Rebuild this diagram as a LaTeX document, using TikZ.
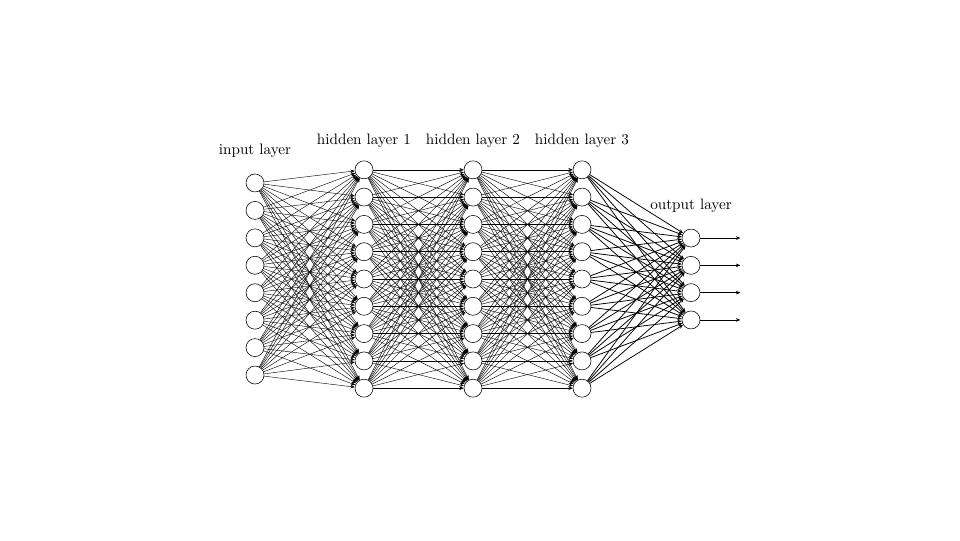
\documentclass[tikz,border=0pt]{standalone}
\usetikzlibrary{arrows.meta, positioning, calc}
\tikzset{
  neuron/.style={draw, circle, minimum size=0.45cm, inner sep=0pt, fill=white},
  synapse/.style={-{Stealth[length=1.1mm, width=0.9mm]}, line width=0.3pt},
  outsynapse/.style={synapse, line width=0.55pt},
  layerlabel/.style={inner sep=1pt, font=\fontsize{10.8}{13}\selectfont}
}
\begin{document}
\begin{tikzpicture}
  \useasboundingbox (0,0) rectangle (24,13.5);
  % neurons
  \foreach \i in {1,...,8}
    \node[neuron] (in\i) at (6.375, {6.525+(4.5-\i)*0.686}) {};
  \foreach \l/\x in {1/9.1, 2/11.825, 3/14.55}
    \foreach \i in {1,...,9}
      \node[neuron] (h\l-\i) at (\x, {6.525+(5-\i)*0.6825}) {};
  \foreach \i in {1,...,4}
    \node[neuron] (out\i) at (17.275, {6.525+(2.5-\i)*0.6825}) {};
  % connections
  \foreach \i in {1,...,8}
    \foreach \j in {1,...,9}
      \draw[synapse] (in\i) -- (h1-\j);
  \foreach \l/\m in {1/2, 2/3}
    \foreach \i in {1,...,9}
      \foreach \j in {1,...,9}
        \draw[synapse] (h\l-\i) -- (h\m-\j);
  \foreach \i in {1,...,9}
    \foreach \j in {1,...,4}
      \draw[outsynapse] (h3-\i) -- (out\j);
  \foreach \i in {1,...,4} {
    \coordinate[right=1cm of out\i] (y\i);
    \draw[synapse] (out\i) -- (y\i);
  }
  % labels
  \node[layerlabel, above=0.36cm of in1] {input layer};
  \node[layerlabel, above=0.27cm of h1-1] {hidden layer 1};
  \node[layerlabel, above=0.27cm of h2-1] {hidden layer 2};
  \node[layerlabel, above=0.27cm of h3-1] {hidden layer 3};
  \node[layerlabel, above=0.36cm of out1] {output layer};
\end{tikzpicture}
\end{document}
